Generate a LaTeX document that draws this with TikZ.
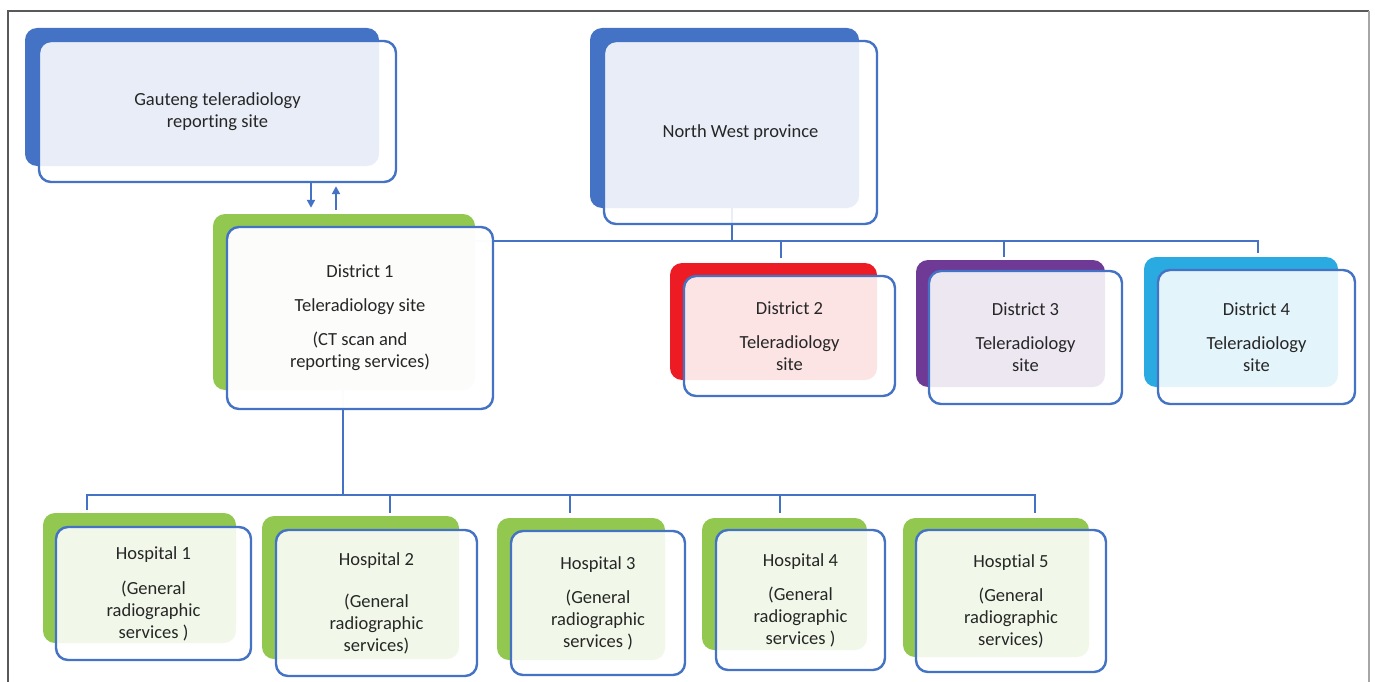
\documentclass[tikz,border=0pt]{standalone}
\usepackage{fontspec}
\setmainfont[Ligatures=NoCommon]{Carlito}
\usepackage{tikz}
\usetikzlibrary{arrows.meta, positioning}
\usepackage{xcolor}
\definecolor{nwblue}{HTML}{4472C4}
\definecolor{sitegreen}{HTML}{92C850}
\definecolor{sitered}{HTML}{ED1C24}
\definecolor{sitepurple}{HTML}{6E3A96}
\definecolor{sitecyan}{HTML}{29ABE2}
\definecolor{textgray}{HTML}{262626}
\tikzset{back box/.style={fill=#1, rounded corners=12pt, inner sep=0pt},
	front box/.style={draw=nwblue, line width=2.4pt, fill=white, fill opacity=.88, text opacity=1, rounded corners=12pt, align=center, inner sep=0pt, text=textgray, font=\fontsize{18.5}{22}\selectfont},
	link/.style={draw=nwblue, line width=2.8pt}}

\begin{document}
\begin{tikzpicture}[x=1pt, y=-1pt]
	\useasboundingbox (0,0) rectangle (1375,682);
	\draw[black!65, line width=1.5pt] (8,682) -- (8,11) -- (1369,11);
	\draw[black!35, line width=1.5pt] (1369,11) -- (1369,682);

	% coloured boxes behind
	\node[back box=nwblue, minimum width=354pt, minimum height=138pt] (gaub) at (202,97) {};
	\node[back box=nwblue, minimum width=269pt, minimum height=180pt] (nwb) at (724.5,118) {};
	\node[back box=sitegreen, minimum width=262pt, minimum height=176pt] (d1b) at (344,302) {};
	\node[back box=sitered, minimum width=207pt, minimum height=117pt] (d2b) at (773.5,321.5) {};
	\node[back box=sitepurple, minimum width=189pt, minimum height=127pt] (d3b) at (1010.5,323.5) {};
	\node[back box=sitecyan, minimum width=194pt, minimum height=130pt] (d4b) at (1241,322) {};
	\node[back box=sitegreen, minimum width=193pt, minimum height=130pt] (h1b) at (139.5,578) {};
	\node[back box=sitegreen, minimum width=197pt, minimum height=143pt] (h2b) at (360.5,587.5) {};
	\node[back box=sitegreen, minimum width=168pt, minimum height=142pt] (h3b) at (581,589) {};
	\node[back box=sitegreen, minimum width=165pt, minimum height=132pt] (h4b) at (784.5,584) {};
	\node[back box=sitegreen, minimum width=186pt, minimum height=139pt] (h5b) at (996,587.5) {};

	% tree lines
	\coordinate (nwbus) at (732,241);
	\coordinate (hbus) at (343,495);
	\draw[link] ([xshift=7.5pt]nwb.south) -- (nwbus);
	\draw[link] (d1b.east |- nwbus) -- (nwbus);
	\draw[link] (nwbus) -| ([xshift=7.5pt, yshift=5pt]d2b.north);
	\draw[link] (nwbus) -| ([xshift=-6.5pt, yshift=3pt]d3b.north);
	\draw[link] (nwbus) -| ([xshift=17pt, yshift=4pt]d4b.north);
	\draw[link] ([xshift=-1pt]d1b.south) -- (hbus);
	\draw[link] (hbus) -| ([xshift=-52.5pt, yshift=3pt]h1b.north);
	\draw[link] (hbus) -| ([xshift=29.5pt, yshift=3pt]h2b.north);
	\draw[link] (hbus) -| ([xshift=-11pt, yshift=5pt]h3b.north);
	\draw[link] (hbus) -| ([xshift=-4.5pt, yshift=5pt]h4b.north);
	\draw[link] (hbus) -| ([xshift=39pt, yshift=5pt]h5b.north);

	% boxes in front
	\node[front box, minimum width=357pt, minimum height=141pt] (gau) at (217.5,111.5) {Gauteng teleradiology\\reporting site};
	\node[front box, minimum width=273pt, minimum height=183pt] (nw) at (740.5,132.5) {North West province};
	\node[front box, fill opacity=.98, minimum width=266pt, minimum height=182pt] (d1) at (360,318) {District 1\\[12pt]Teleradiology site\\[12pt](CT scan and\\reporting services)};
	\node[front box, minimum width=211pt, minimum height=120pt] (d2) at (789.5,336) {District 2\\[12pt]Teleradiology\\site};
	\node[front box, minimum width=193pt, minimum height=133pt] (d3) at (1025.5,337.5) {District 3\\[12pt]Teleradiology\\site};
	\node[front box, minimum width=197pt, minimum height=134pt] (d4) at (1256.5,337) {District 4\\[12pt]Teleradiology\\site};
	\node[front box, minimum width=195pt, minimum height=133pt] (h1) at (153.5,593.5) {Hospital 1\\[13pt](General\\radiographic\\services )};
	\node[front box, minimum width=201pt, minimum height=146pt] (h2) at (376.5,603) {Hospital 2\\[20pt](General\\radiographic\\services)};
	\node[front box, minimum width=174pt, minimum height=144pt] (h3) at (598,603) {Hospital 3\\[12pt](General\\radiographic\\services )};
	\node[front box, minimum width=169pt, minimum height=140pt] (h4) at (800.5,600) {Hospital 4\\[12pt](General\\radiographic\\services )};
	\node[front box, minimum width=190pt, minimum height=142pt] (h5) at (1011,601) {Hosptial 5\\[12pt](General\\radiographic\\services)};

	% reporting link
	\draw[nwblue, line width=2pt, -{Triangle[length=8pt, width=8pt]}] ([xshift=93.5pt]gau.south) -- ([xshift=-33pt, yshift=6pt]d1b.north);
	\draw[nwblue, line width=2pt, -{Triangle[length=8pt, width=8pt]}] ([xshift=-8pt, yshift=4pt]d1b.north) -- ([xshift=118.5pt, yshift=-3pt]gau.south);
\end{tikzpicture}
\end{document}
